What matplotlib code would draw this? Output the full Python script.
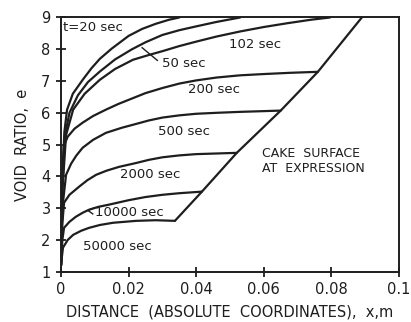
import matplotlib
matplotlib.use("Agg")
import matplotlib.pyplot as plt

# void ratio profiles through the cake, x in m from the filter medium
x_20 = [0, 0.0003, 0.001, 0.0018, 0.0035, 0.0065, 0.009, 0.0115, 0.015,
        0.020, 0.024, 0.028, 0.032, 0.035]
e_20 = [1.2, 3.6, 5.4, 6.1, 6.6, 7.05, 7.4, 7.7, 8.02, 8.42, 8.64, 8.8,
        8.93, 9.0]

x_50 = [0, 0.0004, 0.0012, 0.0025, 0.005, 0.008, 0.0115, 0.016, 0.021,
        0.025, 0.030, 0.035, 0.040, 0.046, 0.053]
e_50 = [1.2, 3.6, 5.3, 6.0, 6.55, 6.97, 7.3, 7.68, 8.0, 8.22, 8.45, 8.6,
        8.72, 8.86, 9.0]

x_102 = [0, 0.0005, 0.0015, 0.0036, 0.007, 0.0115, 0.016, 0.0213, 0.026,
         0.030, 0.035, 0.040, 0.046, 0.053, 0.060, 0.067, 0.074, 0.0796]
e_102 = [1.2, 3.7, 5.3, 6.1, 6.6, 7.04, 7.38, 7.67, 7.82, 7.94, 8.1, 8.24,
         8.4, 8.56, 8.7, 8.82, 8.93, 9.0]

x_200 = [0, 0.0003, 0.0008, 0.002, 0.004, 0.0064, 0.0095, 0.0133, 0.017,
         0.021, 0.025, 0.030, 0.035, 0.040, 0.046, 0.053, 0.060, 0.068, 0.076]
e_200 = [1.2, 3.8, 4.95, 5.25, 5.5, 5.69, 5.9, 6.1, 6.28, 6.45, 6.62, 6.78,
         6.92, 7.02, 7.11, 7.18, 7.22, 7.26, 7.29]

x_500 = [0, 0.0004, 0.0015, 0.003, 0.0045, 0.0064, 0.0095, 0.0133, 0.018,
         0.0222, 0.026, 0.030, 0.035, 0.040, 0.046, 0.053, 0.059, 0.065]
e_500 = [1.2, 3.0, 4.05, 4.4, 4.65, 4.9, 5.15, 5.37, 5.53, 5.65, 5.76, 5.85,
         5.92, 5.97, 6.0, 6.03, 6.05, 6.07]

x_2000 = [0, 0.0004, 0.0009, 0.0025, 0.0053, 0.0078, 0.0104, 0.0135, 0.0172,
          0.0222, 0.026, 0.030, 0.035, 0.040, 0.046, 0.052]
e_2000 = [1.2, 2.5, 3.17, 3.42, 3.67, 3.88, 4.05, 4.18, 4.30, 4.42, 4.52,
          4.6, 4.66, 4.7, 4.72, 4.74]

x_10000 = [0, 0.0004, 0.0009, 0.0025, 0.0044, 0.0065, 0.0083, 0.011, 0.0142,
           0.020, 0.025, 0.030, 0.035, 0.0417]
e_10000 = [1.2, 2.0, 2.38, 2.57, 2.73, 2.86, 2.95, 3.04, 3.11, 3.25, 3.35,
           3.42, 3.47, 3.52]

x_50000 = [0, 0.0003, 0.0006, 0.002, 0.0036, 0.006, 0.0083, 0.0115, 0.0154,
           0.0222, 0.028, 0.0337]
e_50000 = [1.2, 1.5, 1.76, 2.0, 2.16, 2.29, 2.38, 2.47, 2.54, 2.60, 2.62, 2.6]

# position of the cake surface during expression
x_surf = [0.0337, 0.0417, 0.052, 0.065, 0.076, 0.089]
e_surf = [2.6, 3.52, 4.74, 6.07, 7.29, 9.0]

col = "#1e1e1e"
lw = 1.6

fig = plt.figure(figsize=(4.11, 3.22), dpi=100)
ax = fig.add_axes([0.1484, 0.1562, 0.8224, 0.7895])

for xs, es in [(x_20, e_20), (x_50, e_50), (x_102, e_102), (x_200, e_200),
               (x_500, e_500), (x_2000, e_2000), (x_10000, e_10000),
               (x_50000, e_50000), (x_surf, e_surf)]:
    ax.plot(xs, es, color=col, lw=lw, solid_joinstyle="round",
            solid_capstyle="round")

ax.set_xlim(0, 0.1)
ax.set_ylim(1, 9)
ax.set_xticks([0, 0.02, 0.04, 0.06, 0.08, 0.1])
ax.set_xticklabels(["0", "0.02", "0.04", "0.06", "0.08", "0.1"])
ax.set_yticks(range(1, 10))
ax.tick_params(direction="inout", length=7, width=1.3, color=col,
               labelsize=10.5, labelcolor=col, pad=4)
for s in ax.spines.values():
    s.set_linewidth(1.4)
    s.set_color(col)

ax.set_xlabel("DISTANCE  (ABSOLUTE  COORDINATES),  x,m", fontsize=10.5,
              color=col, labelpad=5)
ax.set_ylabel("VOID  RATIO,  e", fontsize=10.5, color=col, labelpad=8)

tk = dict(fontsize=9.5, color=col, va="center", ha="left")
ax.text(0.0007, 8.67, "t=20 sec", **tk)
ax.text(0.0299, 7.55, "50 sec", **tk)
ax.plot([0.024, 0.0285], [8.05, 7.65], color=col, lw=1.0)
ax.text(0.0497, 8.14, "102 sec", **tk)
ax.text(0.0376, 6.72, "200 sec", **tk)
ax.text(0.0287, 5.40, "500 sec", **tk)
ax.text(0.0175, 4.05, "2000 sec", **tk)
ax.text(0.0101, 2.86, "10000 sec", **tk)
ax.plot([0.0097, 0.0079, 0.0094], [3.0, 2.93, 2.82], color=col, lw=1.0)
ax.text(0.0065, 1.79, "50000 sec", **tk)
ax.text(0.0595, 4.48, "CAKE  SURFACE\nAT  EXPRESSION", fontsize=9,
        color=col, va="center", ha="left", linespacing=1.15)

fig.savefig("out.png", dpi=100)
